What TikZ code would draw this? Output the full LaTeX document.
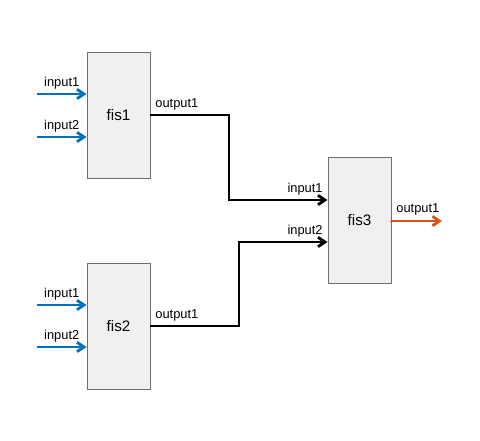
\documentclass[tikz,border=0pt]{standalone}
\usepackage{fontspec}
\setmainfont{Liberation Sans}
\usepackage{xcolor}
\definecolor{InBlue}{HTML}{0072BD}
\definecolor{OutOrange}{HTML}{D95319}
\definecolor{BoxFill}{HTML}{F0F0F0}
\definecolor{BoxLine}{HTML}{6E6E6E}
\usepackage{tikz}
\usetikzlibrary{arrows.meta, positioning}
\tikzset{
  fisbox/.style={
    rectangle, fill=BoxFill, draw=BoxLine, line width=0.8pt,
    minimum width=1.89cm, minimum height=3.78cm,
    inner sep=0pt, font=\fontsize{13}{15}\selectfont
  },
  lbl/.style={inner sep=3pt, text=black, font=\fontsize{11}{13}\selectfont},
  inArr/.style={-{Straight Barb[length=6pt, width=8pt]}, line width=2.4pt, color=InBlue},
  sigArr/.style={-{Straight Barb[length=6pt, width=8pt]}, line width=2.4pt, color=black},
  outArr/.style={-{Straight Barb[length=6pt, width=8pt]}, line width=2.4pt, color=OutOrange},
}
\begin{document}
\begin{tikzpicture}[x=0.03cm, y=-0.03cm]
\useasboundingbox (0,0) rectangle (480,440);

% Three FIS blocks
\node[fisbox] at (118.5,115) (fis1) {fis1};
\node[fisbox] at (118.5,326) (fis2) {fis2};
\node[fisbox] at (359.5,220.5) (fis3) {fis3};

% Free ends and bends
\coordinate (in11) at (37,94);
\coordinate (in12) at (37,137);
\coordinate (in21) at (37,305);
\coordinate (in22) at (37,347);
\coordinate (bend1) at (229,200);
\coordinate (bend2) at (239,242);
\coordinate (out3) at (442,221);

% Inputs
\draw[inArr] (in11) -- node[lbl, above] {input1} (in11 -| fis1.west);
\draw[inArr] (in12) -- node[lbl, above] {input2} (in12 -| fis1.west);
\draw[inArr] (in21) -- node[lbl, above] {input1} (in21 -| fis2.west);
\draw[inArr] (in22) -- node[lbl, above] {input2} (in22 -| fis2.west);

% Connections to fis3
\draw[sigArr] (fis1.east) -- node[lbl, above right, pos=0] {output1} (fis1.east -| bend1)
  |- node[lbl, above left, pos=1] {input1} (fis3.west |- bend1);
\draw[sigArr] (fis2.east) -- node[lbl, above right, pos=0] {output1} (fis2.east -| bend2)
  |- node[lbl, above left, pos=1] {input2} (fis3.west |- bend2);

% Output
\draw[outArr] (fis3.east) -- node[lbl, above right, pos=0] {output1} (out3 -| fis3.east) -- (out3);

\end{tikzpicture}
\end{document}
